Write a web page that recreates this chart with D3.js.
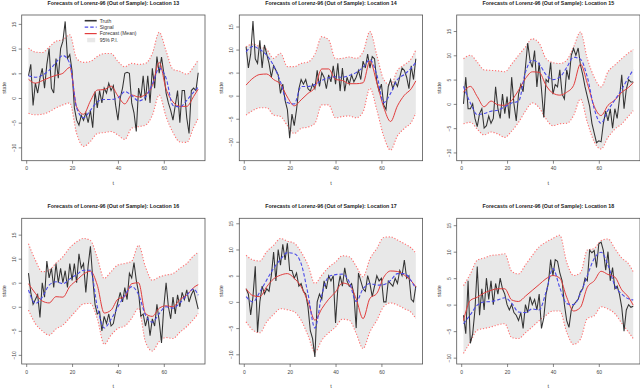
<!DOCTYPE html>
<html>
<head>
<meta charset="utf-8">
<script src="https://cdn.jsdelivr.net/npm/d3@7"></script>
<style>
  body { margin: 0; background: #fff; }
  text { font-family: "Liberation Sans", Arial, sans-serif; }
</style>
</head>
<body>
<div id="chart"></div>
<script>
// time index of the truth series and knots of the smooth series
var tTruth = [1,2,3,4,5,6,7,8,9,10,11,12,13,14,15,16,17,18,19,20,21,22,23,24,25,26,27,28,29,30,31,32,33,34,35,36,37,38,39,40,41,42,43,44,45,46,47,48,49,50,51,52,53,54,55,56,57,58,59,60,61,62,63,64,65,66,67,68,69,70,71,72,73,74,75];
var tKnots = [1,4,7,10,13,16,19,22,25,28,31,34,37,40,43,46,49,52,55,58,61,64,67,70,73,75];

var xTicks = [0, 20, 40, 60];
var yTicks = [-10, -5, 0, 5, 10, 15];
var locations = [13, 14, 15, 16, 17, 18];
var legendLabels = ["Truth", "Signal", "Forecast (Mean)", "95% P.I."];

// Location 13
var truth13 = [4.5,6.8,-1.5,3.0,1.0,4.0,6.0,2.0,6.8,10.0,2.0,1.0,8.0,4.0,10.0,11.5,15.5,8.0,8.8,5.5,-2.0,-4.5,-5.5,-3.5,-4.5,-3.0,-5.0,-2.5,-6.0,1.3,-2.0,1.5,-1.0,2.0,1.0,3.0,1.5,2.5,-1.5,-4.5,0.0,2.0,5.0,5.2,5.0,-1.0,-3.0,-6.8,2.0,0.0,4.5,-0.5,4.5,-1.0,6.0,2.0,8.4,5.0,8.3,5.0,1.0,-1.0,-2.5,-4.5,-1.5,1.5,-5.0,1.5,1.5,-4.0,-7.2,1.5,2.0,1.5,5.1];
var signal13 = [4.5,4.2,4.6,5.6,7.2,8.6,7.0,-2.0,-4.0,-2.5,-0.8,-0.3,-0.3,0.0,1.3,0.5,-0.6,0.2,2.8,6.0,4.0,-1.5,-1.8,-0.5,1.2,2.2];
var mean13 = [3.8,3.0,3.5,4.1,4.6,5.0,6.2,-1.8,-3.3,-0.6,1.6,1.7,2.4,0.4,-1.2,0.6,0.2,0.7,2.5,7.2,1.8,-0.8,-1.7,-1.7,0.3,1.8];
var upper13 = [10.1,9.3,9.2,10.3,11.5,11.8,12.8,8.0,7.2,7.4,8.4,9.0,9.0,7.4,6.3,7.0,6.8,7.0,9.0,13.3,9.5,5.8,5.4,4.8,6.3,7.7];
var lower13 = [-3.1,-3.4,-3.3,-2.8,-2.0,-1.4,-1.0,-7.2,-9.8,-8.8,-7.2,-7.0,-6.8,-7.5,-8.4,-6.1,-5.8,-5.5,-3.5,0.6,-3.8,-7.0,-8.9,-9.0,-6.0,-4.1];

// Location 14
var truth14 = [10.6,6.0,9.0,16.2,8.0,7.0,12.0,6.0,11.0,9.0,7.0,4.0,6.5,5.5,4.5,0.5,2.5,-1.0,-3.0,-9.2,-4.0,-6.5,-3.0,1.5,3.5,2.5,3.5,1.5,1.0,2.5,1.5,5.5,2.0,5.0,4.0,1.5,4.5,3.0,6.5,2.5,7.0,1.0,6.0,1.0,4.0,2.5,4.5,3.0,4.0,5.5,3.5,7.5,6.0,9.0,6.0,8.5,8.0,3.0,1.0,2.5,-2.0,-3.0,2.0,3.5,1.5,3.0,2.0,4.0,6.0,5.5,4.0,1.5,6.5,3.5,8.0];
var signal14 = [9.5,10.7,10.0,8.8,6.5,3.0,-1.5,-1.8,2.0,2.0,2.4,3.3,3.9,4.1,4.0,4.4,5.0,6.2,7.8,4.5,-1.5,0.5,3.5,4.6,6.0,7.2];
var mean14 = [2.3,3.8,4.6,4.7,3.5,2.5,-0.3,-2.2,-0.9,0.5,1.8,5.8,5.8,3.5,3.3,2.6,2.6,2.8,7.5,2.8,-2.5,-5.6,-2.2,0.1,1.5,3.2];
var upper14 = [10.6,11.2,10.6,10.0,8.1,9.2,6.3,6.3,7.0,7.3,9.0,12.8,12.1,8.0,8.1,8.4,8.1,9.5,13.9,8.8,3.5,2.3,5.5,6.7,8.0,9.9];
var lower14 = [-4.2,-3.2,-2.6,-2.6,-4.2,-4.5,-6.5,-8.2,-7.1,-6.8,-6.0,-2.0,-2.0,-4.8,-4.5,-4.4,-4.8,-3.5,1.6,-3.1,-8.8,-11.8,-8.7,-7.1,-5.8,-3.8];

// Location 15
var truth15 = [0.0,5.5,-1.0,-1.0,0.0,-3.0,-4.7,-2.0,-1.0,-5.0,-4.5,-2.5,-4.0,-3.0,3.5,-1.0,-3.0,2.0,-2.0,1.5,-3.0,5.5,0.0,-3.5,2.0,4.0,2.5,7.5,12.5,9.0,7.5,11.0,3.5,8.5,3.0,-2.8,5.0,4.5,8.5,2.0,4.0,3.5,7.0,2.0,1.0,7.0,5.0,10.0,11.4,10.0,11.5,8.0,6.0,3.5,1.5,-0.5,-4.0,-6.0,-8.0,-7.6,-7.8,-4.0,-1.5,-3.5,-1.0,-5.0,-1.0,-3.0,1.0,6.0,-1.0,3.0,5.0,4.5,4.5];
var signal15 = [3.6,0.2,-2.2,-2.0,-1.5,-1.3,-0.6,0.2,0.5,6.5,9.0,8.2,6.0,5.0,5.5,7.5,9.6,9.2,5.5,-1.0,-4.0,-1.3,0.8,3.0,5.5,7.0];
var mean15 = [2.4,3.6,1.5,-0.6,0.6,-0.2,-0.3,0.7,2.8,5.2,6.6,6.5,3.8,2.2,1.8,2.4,3.8,8.2,4.2,-0.5,-2.4,-0.3,0.8,2.4,3.4,4.4];
var upper15 = [9.3,10.0,8.6,7.0,6.9,6.8,6.6,8.2,10.0,11.7,13.4,12.5,9.3,8.5,8.3,9.0,11.7,14.8,9.3,5.5,3.5,6.6,8.0,9.3,10.5,11.2];
var lower15 = [-4.1,-3.8,-5.2,-6.4,-5.8,-6.2,-6.9,-5.6,-3.8,-1.5,0.2,-0.8,-3.1,-4.5,-4.1,-4.0,-2.4,1.0,-3.8,-7.8,-9.3,-6.9,-5.2,-4.1,-2.5,-1.4];

// Location 16
var truth16 = [7.0,3.0,0.5,1.5,2.5,-2.2,5.0,2.0,9.5,6.0,8.0,4.0,9.0,5.0,8.0,5.0,7.5,4.0,9.0,5.5,9.0,5.0,11.0,8.0,9.0,3.0,8.5,12.6,6.0,0.5,-1.5,-1.0,-5.0,-2.0,-3.5,-1.5,-4.0,-3.5,-1.0,1.0,3.0,1.0,4.0,1.5,7.0,6.0,9.2,5.5,3.0,-2.0,-1.5,-4.0,-2.0,-6.0,-2.5,-4.0,0.5,-3.0,-7.5,0.0,5.0,0.0,-2.5,2.0,-1.5,2.5,0.0,3.0,1.5,3.5,1.0,2.5,3.5,1.5,-0.5];
var signal16 = [3.5,0.7,2.0,4.5,5.2,4.8,5.8,6.7,7.6,7.6,0.0,-4.4,-2.6,0.0,2.4,4.2,2.5,-1.7,-3.2,-1.4,0.0,-0.3,0.8,2.4,3.7,2.4];
var mean16 = [4.8,2.8,1.2,0.8,2.1,2.0,4.2,5.5,6.8,7.4,4.5,-1.3,-0.7,1.6,2.1,4.8,5.0,-1.4,-2.0,-0.3,0.2,0.0,1.5,2.4,4.0,4.6];
var upper16 = [13.1,9.7,7.3,7.6,9.1,10.4,12.3,13.5,14.2,13.8,10.2,5.9,7.3,8.7,9.0,9.5,12.8,8.3,5.5,6.2,6.6,6.9,8.0,9.0,10.6,11.3];
var lower16 = [-0.7,-3.5,-5.0,-5.9,-4.6,-3.8,-2.3,-0.7,0.6,0.7,-2.5,-7.8,-5.9,-4.5,-4.0,-2.4,-0.3,-7.3,-9.2,-7.2,-6.4,-6.6,-5.3,-4.1,-2.6,-1.4];

// Location 17
var truth17 = [2.5,1.5,-2.5,1.0,6.8,-5.8,0.0,3.0,1.5,2.5,2.0,5.0,9.5,4.0,10.0,7.0,11.0,8.0,11.2,6.0,6.0,4.5,5.5,3.0,3.5,2.0,1.5,-1.0,-5.5,-7.0,-10.5,0.0,1.5,0.5,4.0,2.5,5.0,4.0,5.0,-4.0,2.5,5.0,3.0,6.5,4.0,3.0,3.5,1.5,-5.0,5.5,4.0,2.5,2.0,5.0,3.5,1.0,3.0,5.0,4.0,4.5,0.0,0.0,4.0,3.5,3.0,4.5,3.5,6.0,5.0,8.0,4.5,5.0,0.5,0.0,3.0];
var signal17 = [1.0,0.0,1.9,4.2,6.4,8.1,9.4,9.2,7.3,1.5,-5.0,1.3,4.8,5.2,5.3,3.8,0.1,2.5,3.5,3.2,3.3,4.1,5.4,5.4,4.0,2.5];
var mean17 = [2.5,1.2,1.0,2.9,4.4,5.1,5.4,4.5,2.9,0.0,-3.5,-1.3,0.5,1.9,3.6,3.2,0.6,-3.2,0.7,1.6,4.7,5.9,5.8,5.1,4.0,2.9];
var upper17 = [8.9,8.0,7.8,9.6,10.8,12.1,11.6,11.2,9.5,7.0,3.5,5.1,6.6,7.6,8.8,8.6,6.8,4.8,8.2,10.2,12.3,12.4,11.8,11.1,10.3,9.3];
var lower17 = [-3.8,-5.4,-5.9,-3.8,-2.4,-1.3,-1.5,-1.9,-3.5,-6.4,-9.6,-7.3,-5.9,-4.8,-3.3,-3.5,-6.0,-8.9,-5.7,-3.5,-0.9,-0.2,-0.6,-1.3,-2.0,-3.2];

// Location 18
var truth18 = [-2.0,-5.5,4.5,-7.3,-5.5,-1.0,7.2,-2.0,3.0,-1.0,5.0,1.0,4.5,0.0,4.0,2.0,5.0,3.0,2.0,0.0,-1.0,0.0,-1.5,-2.0,-3.0,-1.5,-4.5,0.0,-1.5,1.5,0.0,1.0,-1.0,2.0,-4.5,-2.5,2.0,4.0,8.5,5.5,8.5,8.2,6.0,4.5,0.0,-3.0,-4.3,-1.0,0.0,0.5,1.0,2.5,3.0,5.0,4.5,10.3,9.8,10.2,7.0,11.5,11.8,10.2,6.5,10.0,4.5,7.0,3.0,3.5,2.0,-0.5,-5.0,-1.0,0.0,-0.5,-0.3];
var signal18 = [-3.6,-1.9,-0.1,0.5,0.6,0.9,1.3,0.3,-1.4,-1.5,-0.8,-1.0,2.4,6.8,3.2,0.2,0.0,2.1,5.5,8.7,9.9,7.5,3.6,2.0,1.1,0.9];
var mean18 = [-3.0,0.8,1.4,2.2,2.7,3.0,3.0,0.9,0.6,1.6,2.7,3.8,4.9,5.5,5.0,1.4,-1.2,-0.5,3.3,4.5,6.3,5.7,5.2,2.8,1.4,-0.1];
var upper18 = [3.6,5.8,8.4,8.8,9.3,9.4,9.6,6.3,5.8,7.5,9.3,10.9,11.8,12.5,13.1,8.0,5.5,6.0,10.3,10.6,12.1,12.4,10.6,8.8,7.7,6.2];
var lower18 = [-9.2,-7.0,-4.8,-4.5,-4.2,-3.8,-3.6,-6.2,-6.4,-5.3,-4.2,-3.0,-2.0,-1.2,-1.2,-5.2,-7.5,-6.5,-2.6,-2.1,-0.4,-0.8,-1.7,-3.5,-5.2,-6.4];

// panel table built from the arrays above
var panels = [
  {loc: locations[0], truth: truth13, signal: signal13, mean: mean13, upper: upper13, lower: lower13, yDom: [-12.7, 16.8]},
  {loc: locations[1], truth: truth14, signal: signal14, mean: mean14, upper: upper14, lower: lower14, yDom: [-14.1, 17.5]},
  {loc: locations[2], truth: truth15, signal: signal15, mean: mean15, upper: upper15, lower: lower15, yDom: [-11.7, 18.3]},
  {loc: locations[3], truth: truth16, signal: signal16, mean: mean16, upper: upper16, lower: lower16, yDom: [-11.9, 18.4]},
  {loc: locations[4], truth: truth17, signal: signal17, mean: mean17, upper: upper17, lower: lower17, yDom: [-11.85, 15.95]},
  {loc: locations[5], truth: truth18, signal: signal18, mean: mean18, upper: upper18, lower: lower18, yDom: [-11.2, 16.3]}
];

var svgWidth = 640;
var svgHeight = 390;
var colLeft = [21.7, 239.3, 456.7];
var rowTop = [15, 218.3];
var boxW = 183.3;
var boxH = 145.7;

var colTruth = "#333333";
var colSignal = "#4a4ae8";
var colMean = "#e23d3d";
var colBound = "#ff6f6f";
var colBand = "#e8e8e8";

var svg = d3.select("#chart")
  .append("svg")
  .attr("width", svgWidth)
  .attr("height", svgHeight);

panels.forEach(function(p, i) {
  var left = colLeft[i % 3];
  var top = rowTop[Math.floor(i / 3)];

  var x = d3.scaleLinear().domain([-1.96, 77.96]).range([0, boxW]);
  var y = d3.scaleLinear().domain(p.yDom).range([boxH, 0]);

  var g = svg.append("g").attr("transform", `translate(${left}, ${top})`);

  var knots = tKnots.map(function(t, k) {
    return {t: t, s: p.signal[k], m: p.mean[k], u: p.upper[k], l: p.lower[k]};
  });
  var truth = tTruth.map(function(t, k) { return {t: t, v: p.truth[k]}; });

  // 95% band
  g.append("path")
    .datum(knots)
    .attr("fill", colBand)
    .attr("d", d3.area()
      .curve(d3.curveMonotoneX)
      .x(d => x(d.t))
      .y0(d => y(d.l))
      .y1(d => y(d.u)));

  // band bounds
  ["u", "l"].forEach(function(key) {
    g.append("path")
      .datum(knots)
      .attr("fill", "none")
      .attr("stroke", colBound)
      .attr("stroke-width", 1.1)
      .attr("stroke-dasharray", "1.2,1.8")
      .attr("d", d3.line().curve(d3.curveMonotoneX).x(d => x(d.t)).y(d => y(d[key])));
  });

  // truth
  g.append("path")
    .datum(truth)
    .attr("fill", "none")
    .attr("stroke", colTruth)
    .attr("stroke-width", 1.05)
    .attr("d", d3.line().x(d => x(d.t)).y(d => y(d.v)));

  // forecast mean
  g.append("path")
    .datum(knots)
    .attr("fill", "none")
    .attr("stroke", colMean)
    .attr("stroke-width", 1)
    .attr("d", d3.line().curve(d3.curveMonotoneX).x(d => x(d.t)).y(d => y(d.m)));

  // signal
  g.append("path")
    .datum(knots)
    .attr("fill", "none")
    .attr("stroke", colSignal)
    .attr("stroke-width", 1.1)
    .attr("stroke-dasharray", "3.5,2")
    .attr("d", d3.line().curve(d3.curveMonotoneX).x(d => x(d.t)).y(d => y(d.s)));

  // box
  g.append("rect")
    .attr("width", boxW)
    .attr("height", boxH)
    .attr("fill", "none")
    .attr("stroke", "#555")
    .attr("stroke-width", 0.8);

  // axes
  var bottomAxis = d3.axisBottom(x).tickValues(xTicks).tickSize(3).tickPadding(3);
  var leftAxis = d3.axisLeft(y).tickValues(yTicks).tickSize(3).tickPadding(2);

  var xAxis = g.append("g")
    .attr("transform", `translate(0, ${boxH})`)
    .call(bottomAxis);
  var yAxis = g.append("g").call(leftAxis);

  [xAxis, yAxis].forEach(function(a) {
    a.select(".domain").remove();
    a.selectAll("line").attr("stroke", "#555").attr("stroke-width", 0.7);
    a.selectAll("text")
      .attr("font-size", "5px")
      .attr("fill", "#444")
      .attr("font-family", "Liberation Sans, Arial, sans-serif");
  });
  // R style: y tick labels parallel to the axis
  yAxis.selectAll("text")
    .attr("x", 0)
    .attr("y", 0)
    .attr("dy", "0")
    .attr("transform", "translate(-6, 0) rotate(-90)")
    .attr("text-anchor", "middle");

  // axis titles
  g.append("text")
    .attr("x", boxW / 2)
    .attr("y", boxH + 24)
    .attr("text-anchor", "middle")
    .attr("font-size", "5.5px")
    .attr("fill", "#444")
    .text("t");

  g.append("text")
    .attr("transform", `translate(-16, ${boxH / 2}) rotate(-90)`)
    .attr("text-anchor", "middle")
    .attr("font-size", "5.5px")
    .attr("fill", "#444")
    .text("state");

  // panel title
  g.append("text")
    .attr("x", boxW / 2)
    .attr("y", -10.3)
    .attr("text-anchor", "middle")
    .attr("font-size", "5.3px")
    .attr("font-weight", "bold")
    .attr("fill", "#222")
    .text(`Forecasts of Lorenz-96 (Out of Sample): Location ${p.loc}`);

  // legend only on first panel
  if (i === 0) {
    var lg = g.append("g").attr("transform", "translate(63, 5.7)");
    var styles = [
      {stroke: colTruth, w: 1.6, dash: null},
      {stroke: colSignal, w: 1.2, dash: "3.5,2"},
      {stroke: colMean, w: 1.2, dash: null},
      {fill: colBand}
    ];
    legendLabels.forEach(function(lab, k) {
      var row = lg.append("g").attr("transform", `translate(0, ${k * 6.45})`);
      if (styles[k].fill) {
        row.append("rect").attr("x", 2.5).attr("y", -2.2).attr("width", 8).attr("height", 4.4)
          .attr("fill", styles[k].fill);
      } else {
        row.append("line").attr("x1", 0).attr("x2", 12).attr("y1", 0).attr("y2", 0)
          .attr("stroke", styles[k].stroke)
          .attr("stroke-width", styles[k].w)
          .attr("stroke-dasharray", styles[k].dash);
      }
      row.append("text")
        .attr("x", 15)
        .attr("y", 1.8)
        .attr("font-size", "5px")
        .attr("fill", "#333")
        .text(lab);
    });
  }
});
</script>
</body>
</html>
